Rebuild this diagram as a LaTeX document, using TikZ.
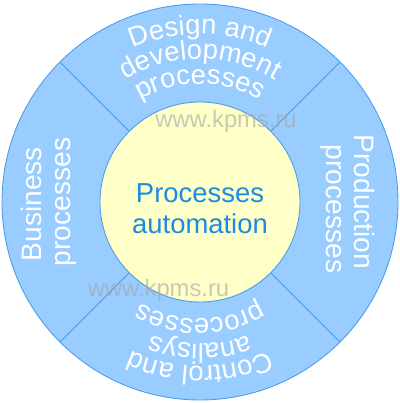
\documentclass[tikz,border=0pt]{standalone}
\usepackage{fontspec}
\setmainfont{Liberation Sans}
\usetikzlibrary{decorations.text}
\definecolor{ringfill}{HTML}{99CCFF}
\definecolor{edgeblue}{HTML}{4A9AEA}
\definecolor{corefill}{HTML}{FFFFC8}
\definecolor{titleblue}{HTML}{1A8CE6}
\newcommand\ringfont{\fontsize{19.5pt}{22pt}\selectfont}
\newcommand\sidefont{\fontsize{20pt}{22pt}\selectfont}
\newcommand\hubfont{\fontsize{19.5pt}{22pt}\selectfont}
\newcommand\wmfont{\fontsize{16.9pt}{18pt}\selectfont}
\tikzset{
  ringtext/.style={decorate, decoration={text along path, text align=center,
      text color=white, text={|\ringfont|#1}}},
  sidetext/.style={text=white, font=\sidefont, anchor=base, inner sep=0pt},
  wmark/.style={text=gray!70, text opacity=0.6, font=\wmfont, inner sep=0pt},
  divider/.style={draw=edgeblue, line width=0.6pt}
}
\begin{document}
\begin{tikzpicture}[x=0.025cm,y=0.025cm]
\useasboundingbox (-200,-201) rectangle (200,202);
\draw[fill=ringfill, draw=edgeblue, line width=0.6pt] (0,0) circle[radius=198];
\draw[divider] (45:100) -- (45:198);
\draw[divider] (135:100) -- (135:198);
\draw[divider] (225:100) -- (225:198);
\draw[divider] (315:100) -- (315:198);
\draw[fill=corefill, draw=edgeblue, line width=0.6pt] (0,0) circle[radius=100];
\node[font=\hubfont, text=titleblue, align=center] (hub) at (0,-7) {Processes\\automation};
% top
\path[ringtext={Design and}] (180:168) arc[start angle=180,end angle=0,radius=168];
\path[ringtext={development}] (180:143) arc[start angle=180,end angle=0,radius=143];
\path[ringtext={processes}] (180:118) arc[start angle=180,end angle=0,radius=118];
% bottom
\path[ringtext={Control and}] (0:164) arc[start angle=0,end angle=-180,radius=164];
\path[ringtext={analisys}] (0:142) arc[start angle=0,end angle=-180,radius=142];
\path[ringtext={processes}] (0:117) arc[start angle=0,end angle=-180,radius=117];
% sides
\node[sidetext, rotate=90] (bus1) at (-158,-2) {Business};
\node[sidetext, rotate=90] (bus2) at (-129,0) {processes};
\node[sidetext, rotate=-90] (prod1) at (155,0) {Production};
\node[sidetext, rotate=-90] (prod2) at (127,-7) {processes};
% watermarks
\node[wmark] (wm1) at (26,81) {www.kpms.ru};
\node[wmark] (wm2) at (-41.5,-88) {www.kpms.ru};
\end{tikzpicture}
\end{document}
